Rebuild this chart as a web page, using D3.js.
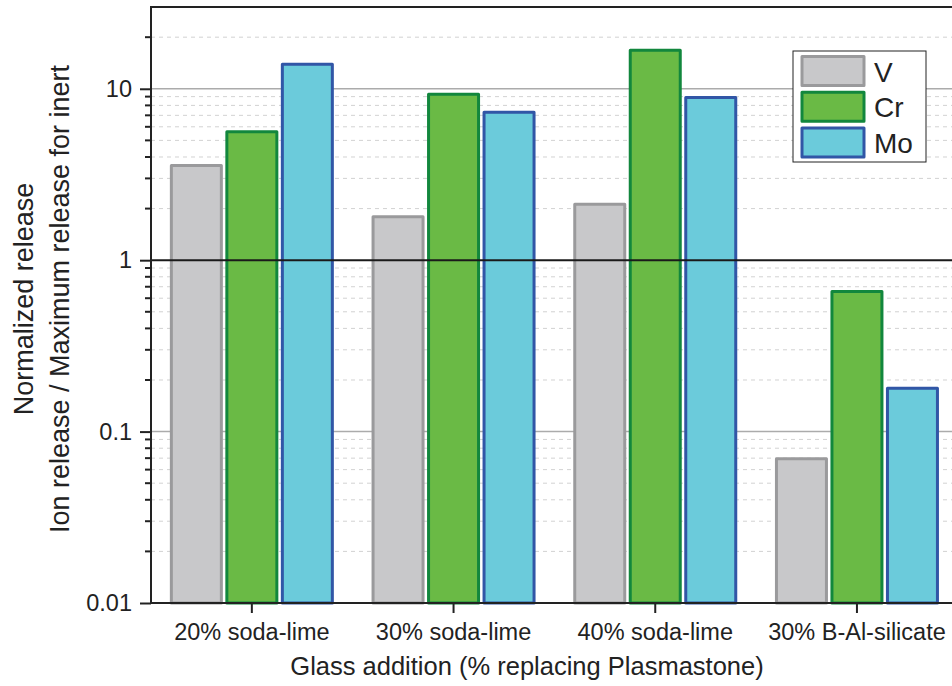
<!DOCTYPE html>
<html>
<head>
<meta charset="utf-8">
<script src="https://cdn.jsdelivr.net/npm/d3@7"></script>
<style>
  html, body { margin: 0; padding: 0; background: #fff; }
  svg { display: block; font-family: "Liberation Sans", Arial, sans-serif; }
</style>
</head>
<body>
<svg id="chart" width="952" height="686"></svg>
<script>
// ---- data ----
const categories = ["20% soda-lime", "30% soda-lime", "40% soda-lime", "30% B-Al-silicate"];
const seriesNames = ["V", "Cr", "Mo"];
const valuesV  = [3.57, 1.79, 2.12, 0.0694];
const valuesCr = [5.62, 9.29, 16.8, 0.657];
const valuesMo = [13.9, 7.3, 8.89, 0.179];
const yTickValues = [0.01, 0.1, 1, 10];
const yTickLabels = ["0.01", "0.1", "1", "10"];
const xTitle = "Glass addition (% replacing Plasmastone)";
const yTitleLines = ["Normalized release", "Ion release / Maximum release for inert"];

const fills   = { V: "#c8c8ca", Cr: "#6aba45", Mo: "#6bcbdb" };
const strokes = { V: "#9a9a9c", Cr: "#12873d", Mo: "#3156a6" };
const seriesValues = { V: valuesV, Cr: valuesCr, Mo: valuesMo };

(function () {
// ---- layout ----
const svg = d3.select("#chart");
const pLeft = 151, pTop = 7, pBottom = 603, groupStep = 201.7;
const pRight = pLeft + categories.length * groupStep;

const x = d3.scaleBand().domain(categories).range([pLeft, pRight]).padding(0);
const xs = d3.scaleBand().domain(seriesNames).range([-80.5, 80.5]).paddingInner(0.099).paddingOuter(0);
const y = d3.scaleLog().domain([0.01, 30]).range([pBottom, pTop]);

// minor values
const minorVals = [];
[0.01, 0.1, 1, 10].forEach(d => { for (let k = 2; k <= 9; k++) { const v = d * k; if (v < 30) minorVals.push(v); } });

const grid = svg.append("g");
grid.selectAll("line.minor").data(minorVals).join("line")
  .attr("x1", pLeft).attr("x2", 952)
  .attr("y1", d => y(d)).attr("y2", d => y(d))
  .attr("stroke", "#d2d2d2").attr("stroke-width", 1).attr("stroke-dasharray", "4,4");
grid.selectAll("line.major").data([0.1, 10]).join("line")
  .attr("x1", pLeft).attr("x2", 952)
  .attr("y1", d => y(d)).attr("y2", d => y(d))
  .attr("stroke", "#ababab").attr("stroke-width", 1.5);

// bars
const groups = svg.append("g").selectAll("g").data(categories).join("g")
  .attr("transform", d => `translate(${x(d) + x.bandwidth() / 2},0)`);
groups.selectAll("rect").data((c, i) => seriesNames.map(s => ({ s, v: seriesValues[s][i] }))).join("rect")
  .attr("x", d => xs(d.s))
  .attr("width", xs.bandwidth())
  .attr("y", d => y(d.v))
  .attr("height", d => pBottom - y(d.v))
  .attr("fill", d => fills[d.s])
  .attr("stroke", d => strokes[d.s])
  .attr("stroke-width", 3)
  .attr("stroke-linejoin", "round");

// reference line at 1
svg.append("line").attr("x1", pLeft).attr("x2", 952)
  .attr("y1", y(1)).attr("y2", y(1)).attr("stroke", "#1a1a1a").attr("stroke-width", 2);

// y axis
const yAxis = svg.append("g").attr("transform", `translate(${pLeft},0)`)
  .call(d3.axisLeft(y).tickValues(yTickValues).tickFormat((d, i) => yTickLabels[i]).tickSize(11).tickPadding(8));
yAxis.select(".domain").remove();
yAxis.selectAll(".tick line").attr("stroke", "#222").attr("stroke-width", 2);
yAxis.selectAll(".tick text").attr("font-size", 23.5).attr("fill", "#222").attr("font-family", "Liberation Sans, Arial, sans-serif");
svg.append("g").selectAll("line").data(minorVals).join("line")
  .attr("x1", pLeft - 6).attr("x2", pLeft)
  .attr("y1", d => y(d)).attr("y2", d => y(d))
  .attr("stroke", "#222").attr("stroke-width", 2);
svg.append("line").attr("x1", pLeft).attr("x2", pLeft).attr("y1", pTop - 1).attr("y2", pBottom + 1)
  .attr("stroke", "#222").attr("stroke-width", 2);

// x axis
const xAxis = svg.append("g").attr("transform", `translate(0,${pBottom})`)
  .call(d3.axisBottom(x).tickSize(10).tickPadding(10));
xAxis.select(".domain").remove();
xAxis.selectAll(".tick line").attr("stroke", "#222").attr("stroke-width", 2);
xAxis.selectAll(".tick text").attr("font-size", 23.5).attr("fill", "#222").attr("font-family", "Liberation Sans, Arial, sans-serif");
svg.append("line").attr("x1", pLeft - 1).attr("x2", 952).attr("y1", pBottom).attr("y2", pBottom)
  .attr("stroke", "#222").attr("stroke-width", 2);
// top frame
svg.append("line").attr("x1", pLeft - 1).attr("x2", 952).attr("y1", pTop).attr("y2", pTop)
  .attr("stroke", "#222").attr("stroke-width", 2);

// titles
svg.append("text").attr("x", 527).attr("y", 675)
  .attr("text-anchor", "middle").attr("font-size", 25.5).attr("fill", "#222").text(xTitle);
const yt = svg.append("text").attr("transform", "translate(0,299) rotate(-90)")
  .attr("text-anchor", "middle").attr("font-size", 27).attr("fill", "#222");
yt.append("tspan").attr("x", 0).attr("y", 33).text(yTitleLines[0]);
yt.append("tspan").attr("x", 0).attr("y", 69).text(yTitleLines[1]);

// legend
const lg = svg.append("g").attr("transform", "translate(793,51)");
lg.append("rect").attr("x", 0).attr("y", 0).attr("width", 133).attr("height", 111)
  .attr("fill", "#fff").attr("stroke", "#222").attr("stroke-width", 1);
const items = lg.selectAll("g").data(seriesNames).join("g")
  .attr("transform", (d, i) => `translate(9,${5.5 + i * 35.8})`);
items.append("rect").attr("width", 62).attr("height", 29)
  .attr("fill", d => fills[d]).attr("stroke", d => strokes[d]).attr("stroke-width", 3)
  .attr("stroke-linejoin", "round");
items.append("text").attr("x", 72).attr("y", 25).attr("font-size", 28).attr("fill", "#222").text(d => d);
})();
</script>
</body>
</html>
